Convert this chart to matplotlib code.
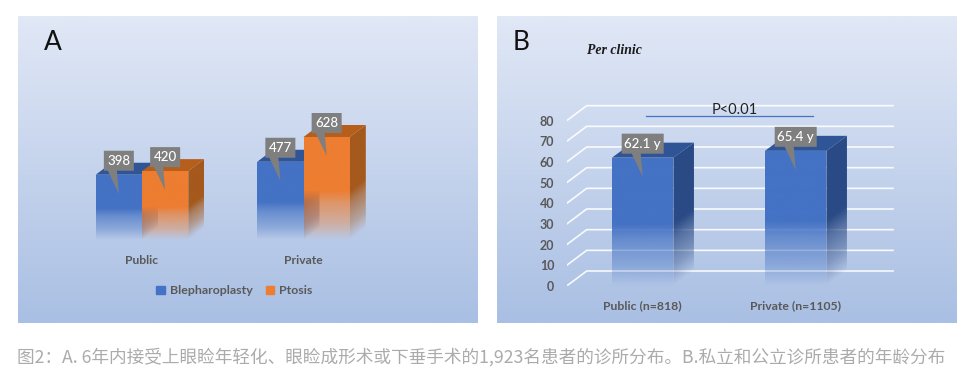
import numpy as np
import matplotlib
matplotlib.use('Agg')
import matplotlib.pyplot as plt
from matplotlib.colors import to_rgb
from matplotlib.patches import Patch, Polygon

# panel A data
clinics = ['Public', 'Private']
blepharoplasty = [398, 477]
ptosis = [420, 628]

# panel B data
clinic_groups = ['Public (n=818)', 'Private (n=1105)']
mean_age = [62.1, 65.4]
age_labels = ['62.1 y', '65.4 y']
age_ticks = [0, 10, 20, 30, 40, 50, 60, 70, 80]

caption = '图2：A. 6年内接受上眼睑年轻化、眼睑成形术或下垂手术的1,923名患者的诊所分布。B.私立和公立诊所患者的年龄分布'

W, H = 973, 372
BLUE = ('#4472C4', '#2A4A85', '#2F5597')
ORANGE = ('#ED7D31', '#A5591C', '#B65F1C')
GREY = '#595959'
plt.rcParams['font.family'] = ['Lato', 'DejaVu Sans']


# axes placed by pixel box
def px_axes(left, top, right, bottom):
    ax = fig.add_axes([left / W, 1 - bottom / H, (right - left) / W, (bottom - top) / H])
    ax.patch.set_visible(False)
    for s in ax.spines.values():
        s.set_visible(False)
    return ax


# gradient clipped to a polygon, fades out near the floor
# slope shears the fade so it follows the floor on a side face
def fade_fill(ax, color, pts, height, zorder, slope=0):
    xs, ys = zip(*pts)
    y = np.linspace(max(ys), min(ys), 200)
    xx = np.linspace(0, max(xs) - min(xs), 40)
    t = (y[:, None] - slope * xx[None, :]) / height
    rgba = np.ones((200, 40, 4))
    rgba[:, :, :3] = to_rgb(color)
    rgba[:, :, 3] = np.interp(t, [0, 0.16, 0.36, 0.48], [0, 0.38, 0.7, 1])
    im = ax.imshow(rgba, extent=[min(xs), max(xs), min(ys), max(ys)], aspect='auto', zorder=zorder)
    clip = Polygon(pts, transform=ax.transData, facecolor='none', edgecolor='none')
    ax.add_patch(clip)
    im.set_clip_path(clip)


# one 3d looking column: side, top, then front
def column(ax, bar, colors, dx, dy, zorder):
    x0, x1, h = bar.get_x(), bar.get_x() + bar.get_width(), bar.get_height()
    fade_fill(ax, colors[1], [(x1, 0), (x1 + dx, dy), (x1 + dx, h + dy), (x1, h)], h, zorder, slope=dy / dx)
    ax.add_patch(Polygon([(x0, h), (x0 + dx, h + dy), (x1 + dx, h + dy), (x1, h)],
                         facecolor=colors[2], edgecolor='none', zorder=zorder))
    fade_fill(ax, colors[0], [(x0, 0), (x1, 0), (x1, h), (x0, h)], h, zorder + 0.1)


# grey data callout with its pointer into the bar
def callout(ax, bar, label, sx, sy, half_w):
    xc = bar.get_x() + bar.get_width() / 2
    top = bar.get_height()
    low, high = top + 4 * sy, top + 24 * sy
    ax.add_patch(Polygon([(xc - half_w * sx, low), (xc - half_w * sx, high), (xc + half_w * sx, high),
                          (xc + half_w * sx, low), (xc - 2 * sx, low), (xc, top - 19 * sy), (xc - 11 * sx, low)],
                         facecolor='#7F7F7F', edgecolor='none', zorder=20))
    ax.text(xc, (low + high) / 2, label, color='white', fontsize=9.6, fontweight='medium',
            ha='center', va='center', zorder=21)


fig = plt.figure(figsize=(W / 100, H / 100), dpi=100, facecolor='white')

# panel backgrounds
bg = fig.add_axes([0, 0, 1, 1])
bg.axis('off')
grad = np.ones((300, 1, 3))
grad[:, 0] = np.linspace(0, 1, 300)[:, None] * np.array(to_rgb('#A9BFE3')) + \
    (1 - np.linspace(0, 1, 300))[:, None] * np.array(to_rgb('#E1E8F6'))
for left, right in [(18, 478), (497, 957)]:
    bg.imshow(grad, extent=[left, right, 323, 16], aspect='auto')
bg.set_xlim(0, W)
bg.set_ylim(H, 0)

# panel A
ax = px_axes(18, 16, 478, 240)
sx = 1 / 161.5
sy = 1 / 0.164
x = np.arange(len(clinics))
w = 46.3 * sx
b1 = ax.bar(x - w / 2, blepharoplasty, w, facecolor='none', edgecolor='none')
b2 = ax.bar(x + w / 2, ptosis, w, facecolor='none', edgecolor='none')
for i in range(len(clinics)):
    column(ax, b1[i], BLUE, 16 * sx, 12 * sy, 3 + i)
    column(ax, b2[i], ORANGE, 16 * sx, 12 * sy, 3.5 + i)
    callout(ax, b1[i], str(blepharoplasty[i]), sx, sy, 15)
    callout(ax, b2[i], str(ptosis[i]), sx, sy, 15)
ax.set_xlim((18 - 142) * sx, (478 - 142) * sx)
ax.set_ylim(0, 224 * sy)
ax.set_yticks([])
ax.set_xticks(x, clinics, fontsize=8.7, fontweight='bold', color=GREY)
ax.tick_params(axis='x', length=0, pad=11)
ax.legend(handles=[Patch(color=BLUE[0], label='Blepharoplasty'), Patch(color=ORANGE[0], label='Ptosis')],
          ncols=2, frameon=False, loc='center', bbox_to_anchor=(216.5 / 460, -51 / 224),
          prop={'size': 8.9, 'weight': 'bold'}, labelcolor=GREY,
          handlelength=0.7, handleheight=0.6, handletextpad=0.4, columnspacing=1.05)

# panel B
ax = px_axes(566.7, 16, 957, 286)
sx = 1 / 153
sy = 1 / 2.0667
x = np.arange(len(clinic_groups))
w = 61.5 * sx
dx, dy = 20 * sx, 15 * sy
x_end = (893 - 642.7) * sx
x_start = (566.7 - 642.7) * sx
for v in age_ticks:
    ax.plot([x_start, x_start + dx, x_end], [v, v + dy, v + dy], color='white', lw=1.2, alpha=0.9, zorder=1)
bars = ax.bar(x, mean_age, w, facecolor='none', edgecolor='none')
for i in range(len(clinic_groups)):
    column(ax, bars[i], BLUE, dx + 0.5 * sx, dy, 3 + i)
    callout(ax, bars[i], age_labels[i], sx, sy, 21)
ax.plot([(646 - 642.7) * sx, (812.7 - 642.7) * sx], [(286 - 115.7) * sy] * 2, color='#4472C4', lw=0.9, zorder=5)
ax.text((734.7 - 642.7) * sx, (286 - 110.5) * sy, 'P<0.01', color='#222222', fontsize=10.5,
        ha='center', va='center', zorder=6)
ax.set_xlim(x_start, (957 - 642.7) * sx)
ax.set_ylim(0, 270 * sy)
ax.set_yticks(age_ticks)
ax.set_xticks(x, clinic_groups)
ax.tick_params(axis='y', length=0, pad=9, labelsize=9, labelcolor=GREY)
ax.tick_params(axis='x', length=0, pad=10.5, labelsize=8.8, labelcolor=GREY)
for lab in ax.get_xticklabels() + ax.get_yticklabels():
    lab.set_fontweight('bold')

# panel letters, subtitle, caption
fig.text(53 / W, 1 - 42.5 / H, 'A', fontsize=19, color='#111111', ha='center', va='center')
fig.text(521 / W, 1 - 42.5 / H, 'B', fontsize=19, color='#111111', ha='center', va='center')
fig.text(614.5 / W, 1 - 50.5 / H, 'Per clinic', fontsize=9.9, family='Liberation Serif',
         style='italic', fontweight='bold', color='#1a1a1a', ha='center', va='center')
fig.text(17 / W, 1 - 357 / H, caption, fontsize=12.72, color='#ABABAB', ha='left', va='center',
         family=['Noto Sans CJK SC', 'DejaVu Sans'])

fig.savefig('out.png', dpi=100)
